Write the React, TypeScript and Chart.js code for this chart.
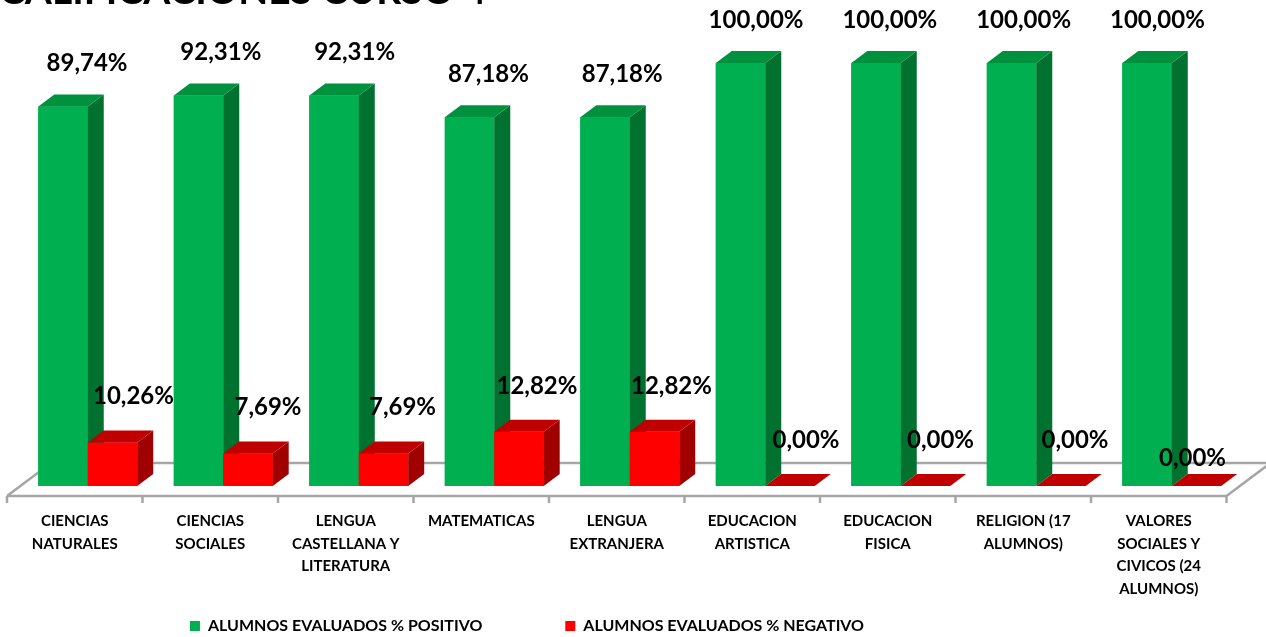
import React, { useEffect, useRef } from 'react';
import { Chart, registerables } from 'chart.js';

Chart.register(...registerables);

const chartTitle = 'CALIFICACIONES CURSO 4º';
const categories: string[][] = [
  ['CIENCIAS', 'NATURALES'],
  ['CIENCIAS', 'SOCIALES'],
  ['LENGUA', 'CASTELLANA Y', 'LITERATURA'],
  ['MATEMATICAS'],
  ['LENGUA', 'EXTRANJERA'],
  ['EDUCACION', 'ARTISTICA'],
  ['EDUCACION', 'FISICA'],
  ['RELIGION (17', 'ALUMNOS)'],
  ['VALORES', 'SOCIALES Y', 'CIVICOS (24', 'ALUMNOS)'],
];
const seriesNames = ['ALUMNOS EVALUADOS % POSITIVO', 'ALUMNOS EVALUADOS % NEGATIVO'];
const positivo = [89.74, 92.31, 92.31, 87.18, 87.18, 100, 100, 100, 100];
const negativo = [10.26, 7.69, 7.69, 12.82, 12.82, 0, 0, 0, 0];

const FONT = 'Lato, "Open Sans", sans-serif';
const FACES = [
  { front: '#00B050', top: '#00913F', side: '#00712F' },
  { front: '#FF0000', top: '#C00000', side: '#A00000' },
];
const DEPTH_X = 16;
const DEPTH_Y = 12;

const fmt = (v: number) => v.toFixed(2).replace('.', ',') + '%';

const threeD = {
  id: 'threeD',
  afterLayout(chart: any) {
    const t = chart.titleBlock;
    if (t) {
      t.top = -32;
      t.left = -1;
    }
    const l = chart.legend;
    if (l) {
      l.top = 626 - 83 - 8;
      l.left = -4;
      l.right = 1058;
    }
    const xs = chart.scales.x;
    if (xs) xs.bottom = chart.height;
  },
  beforeDatasetsDraw(chart: any) {
    const ctx = chart.ctx;
    const xs = chart.scales.x;
    const base = chart.scales.y.getPixelForValue(0);
    const n = chart.data.labels.length;
    const catW = (xs.right - xs.left) / n;
    const fl = xs.left - 13;
    const fr = xs.right - 13;
    const fy = base + 10;
    const bdx = 44;
    const bdy = -33;
    ctx.save();
    ctx.strokeStyle = '#A6A6A6';
    ctx.lineWidth = 2.5;
    ctx.beginPath();
    ctx.moveTo(fl, fy);
    ctx.lineTo(fl + bdx, fy + bdy);
    ctx.lineTo(fr + bdx, fy + bdy);
    ctx.lineTo(fr, fy);
    ctx.lineTo(fl, fy);
    ctx.stroke();
    ctx.beginPath();
    for (let i = 0; i <= n; i++) {
      const tx = fl + i * catW;
      ctx.moveTo(tx, fy);
      ctx.lineTo(tx, fy + 7);
    }
    ctx.stroke();
    ctx.restore();
  },
  afterDatasetsDraw(chart: any) {
    const ctx = chart.ctx;
    ctx.save();
    // 3D faces, drawn series by series so the second series sits in front
    chart.data.datasets.forEach((_ds: any, di: number) => {
      const f = FACES[di];
      chart.getDatasetMeta(di).data.forEach((bar: any) => {
        const { x, y, base, width } = bar.getProps(['x', 'y', 'base', 'width'], true);
        const l = x - width / 2;
        const r = x + width / 2;
        if (base - y > 0.5) {
          ctx.fillStyle = f.front;
          ctx.fillRect(l, y, width, base - y);
          ctx.fillStyle = f.side;
          ctx.beginPath();
          ctx.moveTo(r, y);
          ctx.lineTo(r + DEPTH_X, y - DEPTH_Y);
          ctx.lineTo(r + DEPTH_X, base - DEPTH_Y);
          ctx.lineTo(r, base);
          ctx.closePath();
          ctx.fill();
        }
        ctx.fillStyle = f.top;
        ctx.beginPath();
        ctx.moveTo(l, y);
        ctx.lineTo(r, y);
        ctx.lineTo(r + DEPTH_X, y - DEPTH_Y);
        ctx.lineTo(l + DEPTH_X, y - DEPTH_Y);
        ctx.closePath();
        ctx.fill();
      });
    });
    // data labels
    ctx.font = `bold 24px ${FONT}`;
    ctx.fillStyle = '#000';
    ctx.textAlign = 'center';
    ctx.textBaseline = 'middle';
    chart.data.datasets.forEach((ds: any, di: number) => {
      const meta = chart.getDatasetMeta(di);
      meta.data.forEach((bar: any, i: number) => {
        const { x, y } = bar.getProps(['x', 'y'], true);
        let dx: number;
        let dy: number;
        if (di === 0) {
          dx = 24 - 1.7 * i;
          dy = -43;
        } else {
          dx = 21 - i;
          dy = -46;
          if (i === meta.data.length - 1) {
            dx = -4;
            dy = -28;
          }
        }
        ctx.fillText(fmt(ds.data[i]), x + dx, y + dy);
      });
    });
    ctx.restore();
  },
};

export default function App() {
  const ref = useRef<HTMLCanvasElement>(null);
  useEffect(() => {
    if (!ref.current) return;
    const chart = new Chart(ref.current, {
      type: 'bar',
      data: {
        labels: categories,
        datasets: [
          {
            label: seriesNames[0],
            data: positivo,
            backgroundColor: FACES[0].front,
            borderWidth: 0,
            categoryPercentage: 0.73,
            barPercentage: 1,
          },
          {
            label: seriesNames[1],
            data: negativo,
            backgroundColor: FACES[1].front,
            borderWidth: 0,
            categoryPercentage: 0.73,
            barPercentage: 1,
          },
        ],
      },
      options: {
        animation: false,
        responsive: false,
        devicePixelRatio: 1,
        layout: { padding: { left: 20, right: 26.5, top: 0, bottom: 0 } },
        scales: {
          x: {
            grid: { display: false },
            border: { display: false },
            ticks: {
              color: '#000',
              font: { family: FONT, size: 15, weight: 'bold', lineHeight: 1.5 },
              padding: 16,
              labelOffset: -13,
              maxRotation: 0,
              autoSkip: false,
            },
            afterFit: (s: any) => {
              s.height = 42;
            },
          },
          y: { display: false, min: 0, max: 100 },
        },
        plugins: {
          title: {
            display: true,
            text: chartTitle,
            align: 'start',
            color: '#000',
            font: { family: FONT, size: 39, weight: 'bold' },
            padding: { top: 0, bottom: 16.2 },
          },
          legend: {
            position: 'bottom',
            labels: {
              color: '#000',
              font: { family: FONT, size: 16, weight: 'bold' },
              boxWidth: 10,
              boxHeight: 10,
              padding: 83,
            },
          },
          tooltip: { enabled: false },
        },
      },
      plugins: [threeD],
    } as any);
    return () => chart.destroy();
  }, []);
  return (
    <div style={{ position: 'absolute', left: 0, top: 0, width: 1266, height: 637 }}>
      <canvas ref={ref} width={1266} height={637} style={{ display: 'block' }} />
    </div>
  );
}
